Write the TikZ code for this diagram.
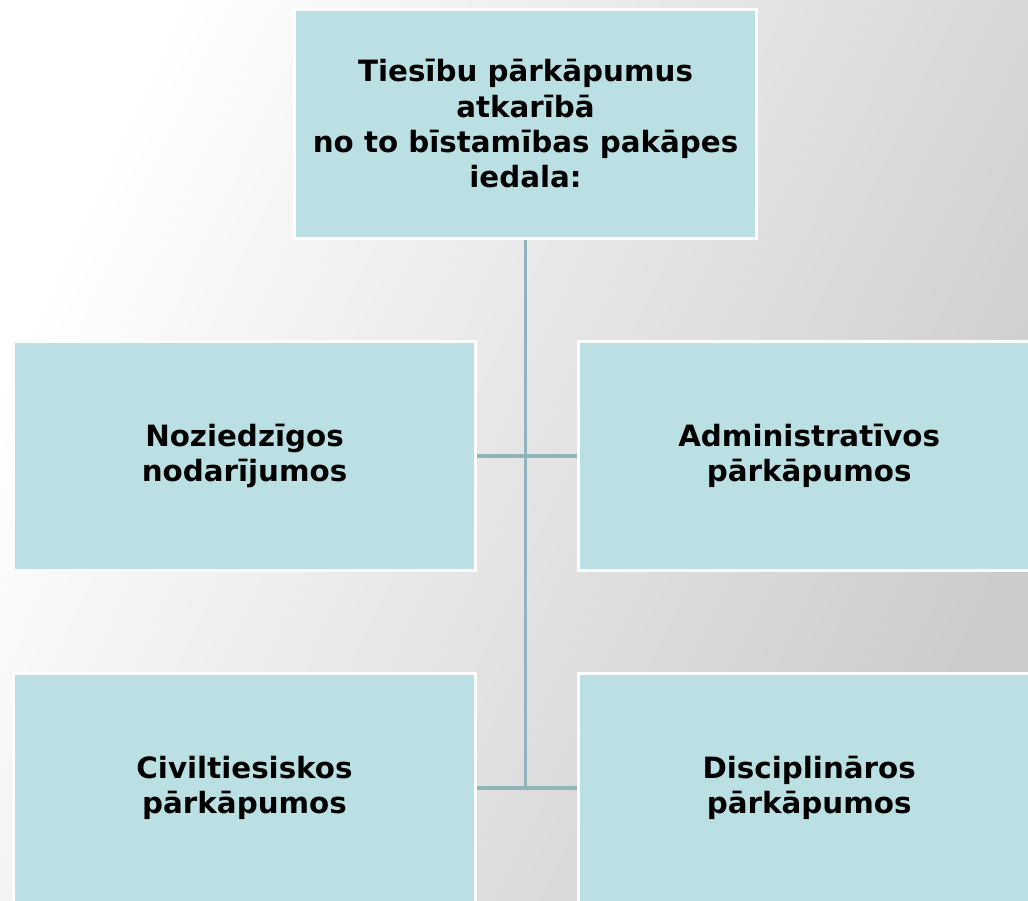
\documentclass[tikz,border=0pt]{standalone}
\usepackage{fontspec}
\setmainfont{DejaVu Sans}
\usetikzlibrary{positioning}
\definecolor{boxfill}{RGB}{186,224,227}
\definecolor{linkline}{RGB}{143,180,186}

\begin{document}
\begin{tikzpicture}[
    x=0.75pt, y=-0.75pt,
    node distance=75pt,
    box/.style={rectangle, minimum width=346.5pt, minimum height=172pt, text centered, align=center, fill=boxfill, draw=white, line width=2pt, font=\fontsize{22}{26.5}\selectfont\bfseries},
    link/.style={linkline, line width=2.6pt},
]

% background
\shade[left color=white, right color=black!20, shading angle=65] (0,0) rectangle (1028,900);
\useasboundingbox (0,0) rectangle (1028,900);

\node[box] (top) at (525.5,124) {Tiesību pārkāpumus\\atkarībā\\no to bīstamības pakāpes\\iedala:};
\node[box] (nozieg) at (244.5,456) {Noziedzīgos\\nodarījumos};
\node[box, right=of nozieg] (admin) {Administratīvos\\pārkāpumos};
\node[box, below=of nozieg] (civil) {Civiltiesiskos\\pārkāpumos};
\node[box, below=of admin] (discip) {Disciplināros\\pārkāpumos};

% connectors
\draw[link] (top.south) -- (top.south |- civil.east);
\draw[link] (nozieg.east) -- (admin.west);
\draw[link] (civil.east) -- (discip.west);

\end{tikzpicture}
\end{document}
